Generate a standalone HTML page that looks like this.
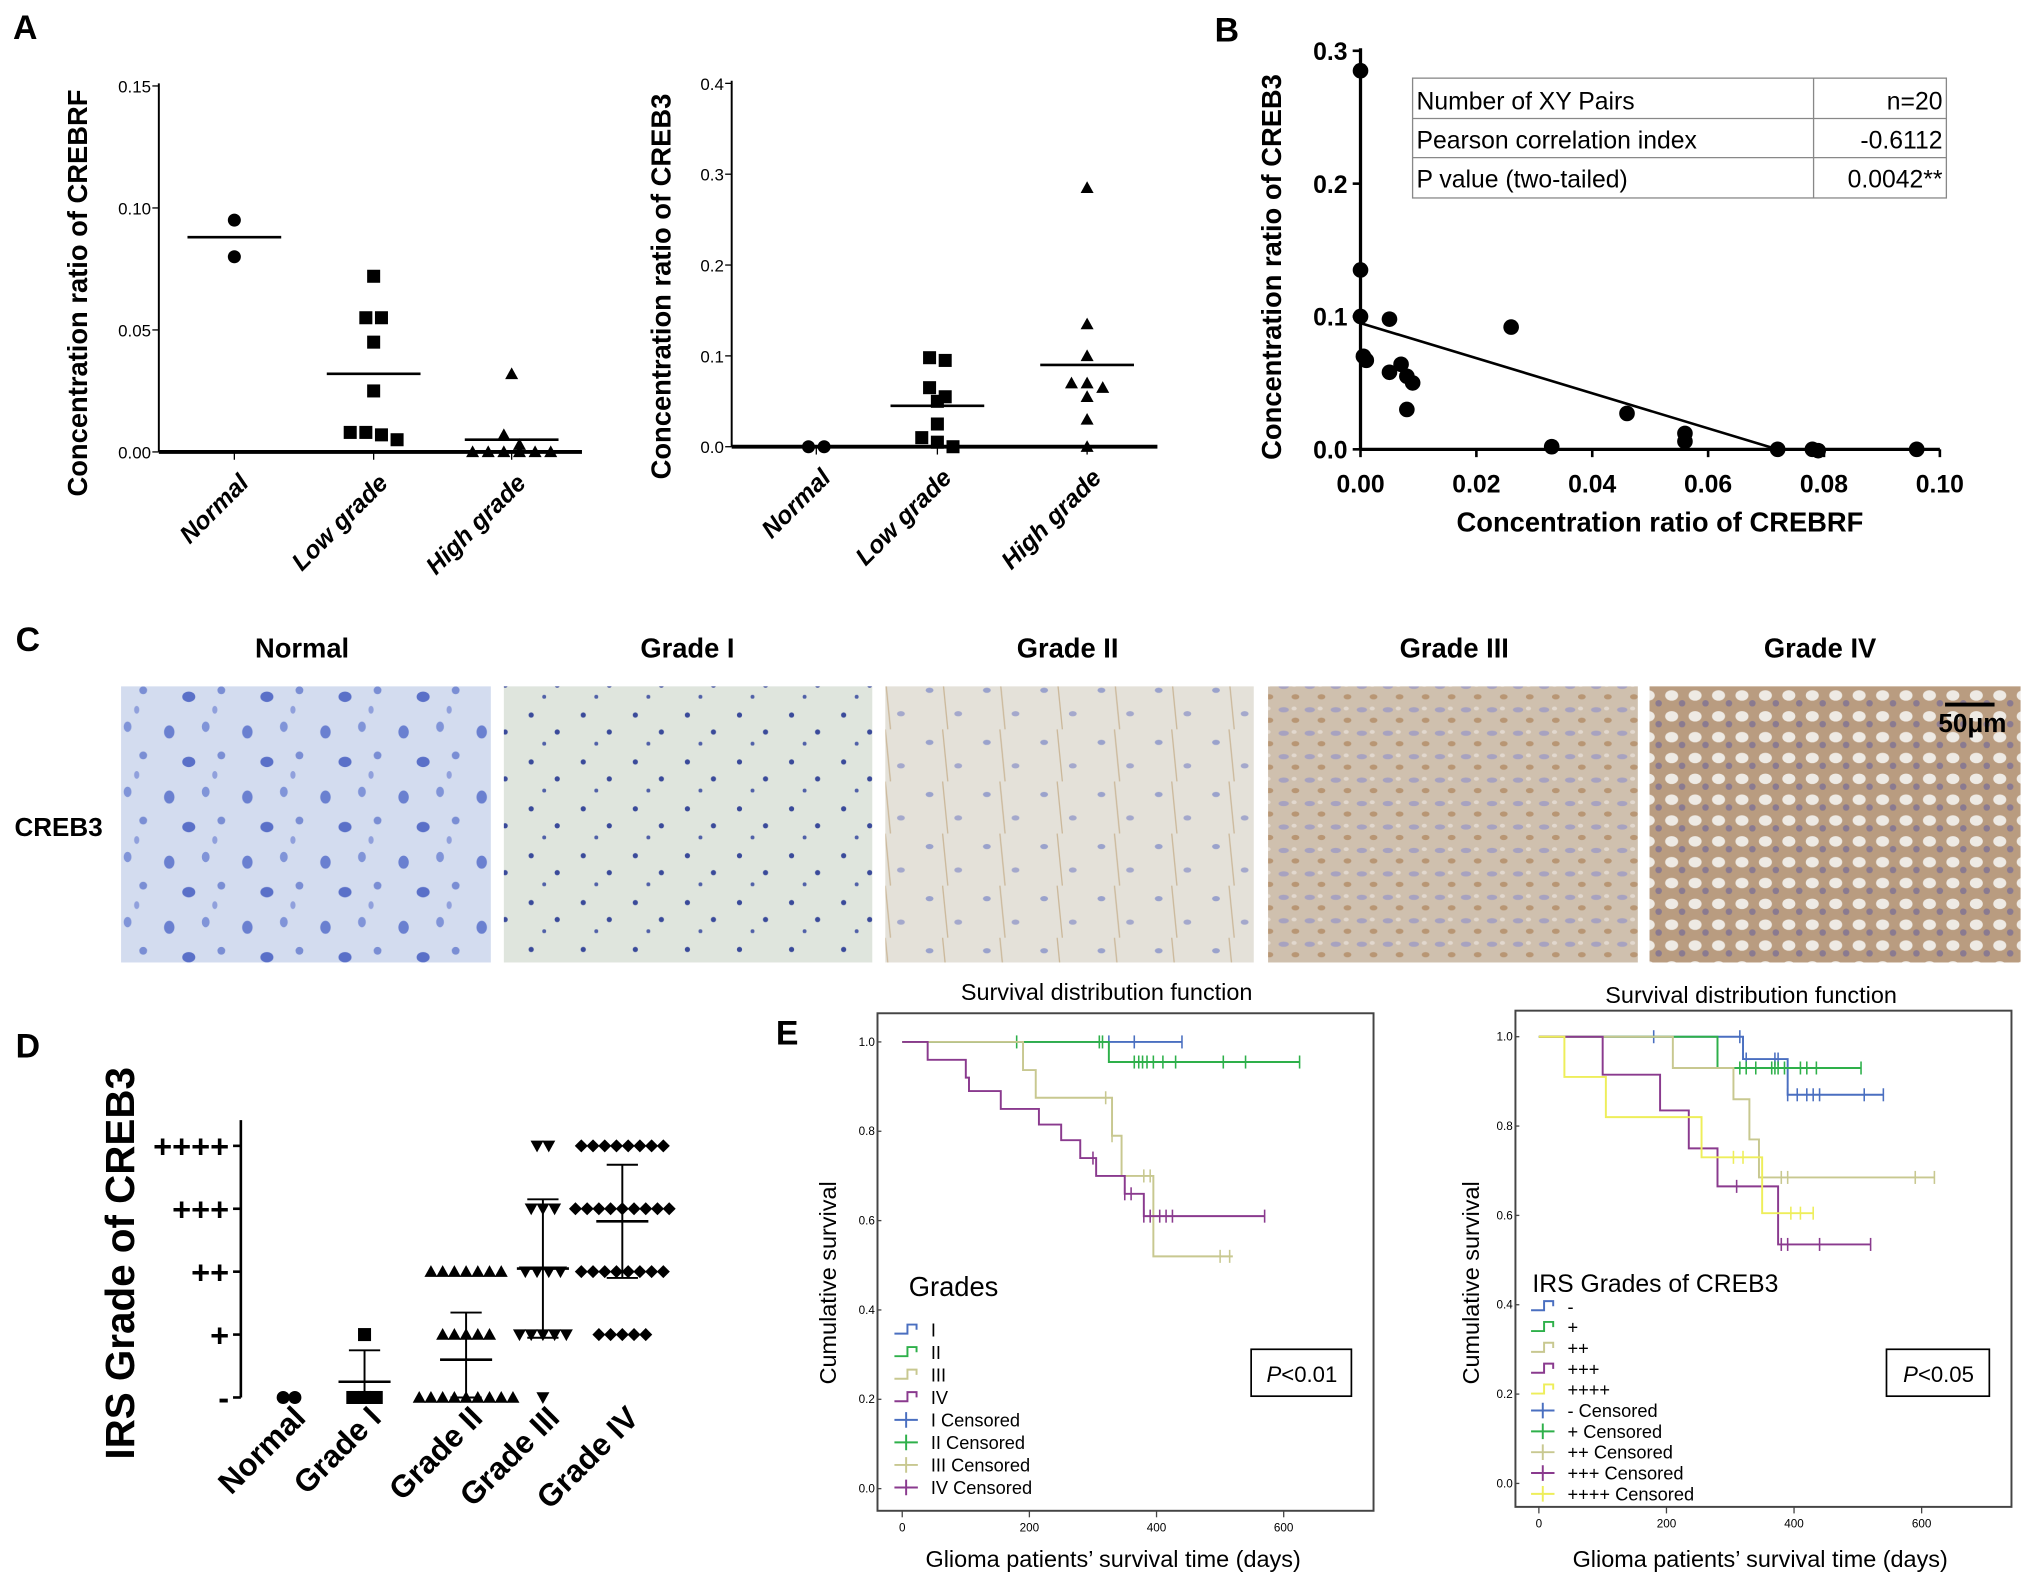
<!DOCTYPE html>
<html><head><meta charset="utf-8"><style>
html,body{margin:0;padding:0;background:#fff;}
svg{display:block;font-family:"Liberation Sans",Arial,sans-serif;}
</style></head><body>
<svg id="fig" width="2031" height="1572" viewBox="0 0 1560 1207" preserveAspectRatio="none" xmlns="http://www.w3.org/2000/svg">
<defs>
<pattern id="pN" width="60" height="50" patternUnits="userSpaceOnUse"><rect width="60" height="50" fill="#d3dcef"/><ellipse cx="10" cy="12" rx="4" ry="5" fill="#6a80d0"/><ellipse cx="38" cy="8" rx="3" ry="4" fill="#8094d8"/><ellipse cx="25" cy="35" rx="5" ry="4" fill="#5a70c8"/><ellipse cx="50" cy="30" rx="3" ry="3" fill="#7a8ed4"/><ellipse cx="45" cy="45" rx="2" ry="3" fill="#90a0dc"/></pattern>
<pattern id="p1" width="40" height="36" patternUnits="userSpaceOnUse"><rect width="40" height="36" fill="#dfe5dd"/><circle cx="8" cy="9" r="2" fill="#3a4a9a"/><circle cx="28" cy="22" r="2" fill="#3a4a9a"/><circle cx="18" cy="31" r="1.5" fill="#5060a8"/></pattern>
<pattern id="p2" width="44" height="40" patternUnits="userSpaceOnUse"><rect width="44" height="40" fill="#e4e1d9"/><ellipse cx="10" cy="10" rx="3" ry="2" fill="#9aa2cc"/><ellipse cx="32" cy="28" rx="3" ry="2" fill="#a4a8cc"/><line x1="20" y1="0" x2="24" y2="40" stroke="#cbb89a" stroke-width="1"/></pattern>
<pattern id="p3" width="20" height="18" patternUnits="userSpaceOnUse"><rect width="20" height="18" fill="#cfc0ae"/><ellipse cx="6" cy="5" rx="4" ry="2" fill="#a7a2c0"/><ellipse cx="15" cy="13" rx="3" ry="2" fill="#b89674"/><ellipse cx="14" cy="4" rx="2" ry="1.5" fill="#e2d8ce"/></pattern>
<pattern id="p4" width="18" height="16" patternUnits="userSpaceOnUse"><rect width="18" height="16" fill="#b99c80"/><ellipse cx="6" cy="6" rx="5" ry="4" fill="#eeeae4"/><circle cx="14" cy="12" r="2.5" fill="#8a7a90"/></pattern>
</defs>

<g font-weight="bold" font-size="26">
<text x="10" y="30">A</text>
<text x="933" y="32">B</text>
<text x="12" y="500">C</text>
<text x="12" y="812">D</text>
<text x="596" y="802">E</text>
</g>

<text transform="translate(67,225) rotate(-90)" text-anchor="middle" font-weight="bold" font-size="21">Concentration  ratio of CREBRF</text>
<text transform="translate(515,220) rotate(-90)" text-anchor="middle" font-weight="bold" font-size="21">Concentration  ratio of CREB3</text>
<text transform="translate(984,205) rotate(-90)" text-anchor="middle" font-weight="bold" font-size="21">Concentration  ratio of CREB3</text>
<text x="1275" y="408" text-anchor="middle" font-weight="bold" font-size="21">Concentration  ratio  of CREBRF</text>

<g id="A1"></g>
<g id="A2"></g>
<g id="B"></g>

<g font-size="19">
<rect x="1085" y="60" width="410" height="92" fill="#fff" stroke="#888" stroke-width="1"/>
<line x1="1085" y1="91" x2="1495" y2="91" stroke="#888"/><line x1="1085" y1="121" x2="1495" y2="121" stroke="#888"/>
<line x1="1393" y1="60" x2="1393" y2="152" stroke="#888"/>
<text x="1088" y="84">Number of XY Pairs</text><text x="1492" y="84" text-anchor="end">n=20</text>
<text x="1088" y="114">Pearson correlation index</text><text x="1492" y="114" text-anchor="end">-0.6112</text>
<text x="1088" y="144">P value (two-tailed)</text><text x="1492" y="144" text-anchor="end">0.0042**</text>
</g>

<g font-weight="bold" font-size="21" text-anchor="middle">
<text x="232" y="505">Normal</text><text x="528" y="505">Grade I</text><text x="820" y="505">Grade II</text><text x="1117" y="505">Grade III</text><text x="1398" y="505">Grade IV</text>
<rect x="93" y="527" width="284" height="212" fill="url(#pN)"/>
<rect x="387" y="527" width="283" height="212" fill="url(#p1)"/>
<rect x="680" y="527" width="283" height="212" fill="url(#p2)"/>
<rect x="974" y="527" width="284" height="212" fill="url(#p3)"/>
<rect x="1267" y="527" width="285" height="212" fill="url(#p4)"/>
<text x="45" y="642" font-size="20">CREB3</text>
<line x1="1494" y1="541" x2="1532" y2="541" stroke="#000" stroke-width="3"/>
<text x="1515" y="562" font-size="20">50μm</text>
</g>

<text transform="translate(103,970) rotate(-90)" text-anchor="middle" font-weight="bold" font-size="31">IRS Grade of CREB3</text>
<g id="D"></g>

<g font-size="18" text-anchor="middle">
<text x="850" y="768">Survival distribution function</text>
<text x="1345" y="770">Survival distribution function</text>
<text x="855" y="1203">Glioma patients’ survival time (days)</text>
<text x="1352" y="1203">Glioma patients’ survival time (days)</text>
<text transform="translate(642,985) rotate(-90)">Cumulative   survival</text>
<text transform="translate(1136,985) rotate(-90)">Cumulative   survival</text>
</g>
<g id="E1"></g>
<g id="E2"></g>
<g>
<text x="698" y="995" font-size="21">Grades</text>
<rect x="961" y="1036" width="77" height="36" fill="#fff" stroke="#000" stroke-width="1.3"/><text x="1000" y="1061" font-size="17" text-anchor="middle"><tspan font-style="italic">P</tspan>&lt;0.01</text>
</g>
<g>
<text x="1177" y="992" font-size="19">IRS Grades of CREB3</text>
<rect x="1449" y="1036" width="79" height="36" fill="#fff" stroke="#000" stroke-width="1.3"/><text x="1489" y="1061" font-size="17" text-anchor="middle"><tspan font-style="italic">P</tspan>&lt;0.05</text>
</g>
</svg>
<script>
const NS='http://www.w3.org/2000/svg';
function mk(tag,attrs,parent){const e=document.createElementNS(NS,tag);for(const k in attrs)e.setAttribute(k,attrs[k]);parent.appendChild(e);return e;}

// ---------- Panel A data ----------
const aCats=['Normal','Low grade','High grade'];
const aLeftTicks=[0,0.05,0.10,0.15];
const aLeftTickLabels=['0.00','0.05','0.10','0.15'];
const aLeftNormal=[0.095,0.080];
const aLeftLow=[0.072,0.055,0.055,0.045,0.025,0.008,0.005,0.007,0.008];
const aLeftHigh=[0.032,0.007,0.003,0,0,0,0,0,0];
const aLeftMeans=[0.088,0.032,0.005];
const aRightTicks=[0,0.1,0.2,0.3,0.4];
const aRightTickLabels=['0.0','0.1','0.2','0.3','0.4'];
const aRightNormal=[0,0];
const aRightLow=[0.098,0.095,0.065,0.055,0.05,0.025,0.01,0.005,0];
const aRightHigh=[0.285,0.135,0.1,0.07,0.065,0.07,0.055,0.03,0];
const aRightMeans=[0,0.045,0.09];

function marker(g,shape,x,y,s,name){
  let e;
  if(shape==='circle') e=mk('circle',{cx:x,cy:y,r:s,fill:'#000'},g);
  else if(shape==='square') e=mk('rect',{x:x-s,y:y-s,width:2*s,height:2*s,fill:'#000'},g);
  else if(shape==='tri') e=mk('polygon',{points:`${x},${y-s} ${x+s},${y+s*0.8} ${x-s},${y+s*0.8}`,fill:'#000'},g);
  else if(shape==='itri') e=mk('polygon',{points:`${x},${y+s} ${x+s},${y-s*0.8} ${x-s},${y-s*0.8}`,fill:'#000'},g);
  else e=mk('polygon',{points:`${x},${y-s} ${x+s},${y} ${x},${y+s} ${x-s},${y}`,fill:'#000'},g);
  
  
  return e;
}

function dotPanel(gid,axX,y0,yTop,vmax,catX,ticks,tickLabels,groups,means,lineEnd){
  const g=document.getElementById(gid);
  const Y=v=>y0-(v/vmax)*(y0-yTop);
  mk('line',{x1:axX,y1:yTop-2,x2:axX,y2:y0,stroke:'#000','stroke-width':1.5},g);
  mk('line',{x1:axX,y1:y0,x2:lineEnd,y2:y0,stroke:'#000','stroke-width':3},g);
  ticks.forEach((t,i)=>{
    mk('line',{x1:axX-5,y1:Y(t),x2:axX,y2:Y(t),stroke:'#000'},g);
    const tx=mk('text',{x:axX-6,y:Y(t)+5,'text-anchor':'end','font-size':13},g);tx.textContent=tickLabels[i];
    
    
  });
  const shapes=['circle','square','tri'];
  groups.forEach((vals,gi)=>{
    const cx=catX[gi];
    mk('line',{x1:cx,y1:y0,x2:cx,y2:y0+6,stroke:'#000'},g);
    const sorted=vals.map((v,i)=>({v,i})).sort((a,b)=>b.v-a.v);
    let rows=[];
    sorted.forEach(p=>{const r=rows.find(r=>Math.abs(Y(r[0].v)-Y(p.v))<9);if(r)r.push(p);else rows.push([p]);});
    rows.forEach(r=>r.forEach((p,k)=>{const x=cx+(k-(r.length-1)/2)*12;marker(g,shapes[gi],x,Y(p.v),5,'data-point');}));
    const ml=mk('line',{x1:cx-36,y1:Y(means[gi]),x2:cx+36,y2:Y(means[gi]),stroke:'#000','stroke-width':2},g);
    
    
    const lb=mk('text',{transform:`translate(${cx+12},${y0+25}) rotate(-45)`,'text-anchor':'end','font-size':19,'font-weight':'bold','font-style':'italic'},g);
    lb.textContent=aCats[gi];
    
    
  });
}
dotPanel('A1',122,347,66,0.15,[180,287,393],aLeftTicks,aLeftTickLabels,[aLeftNormal,aLeftLow,aLeftHigh],aLeftMeans,447);
dotPanel('A2',562,343,64,0.4,[627,720,835],aRightTicks,aRightTickLabels,[aRightNormal,aRightLow,aRightHigh],aRightMeans,889);

// ---------- Panel B ----------
const bX=[0,0,0,0.0005,0.001,0.005,0.005,0.007,0.008,0.009,0.008,0.026,0.033,0.046,0.056,0.056,0.072,0.078,0.096,0.079];
const bY=[0.285,0.135,0.1,0.07,0.067,0.098,0.058,0.064,0.055,0.05,0.03,0.092,0.002,0.027,0.012,0.006,0,0,0,-0.001];
const bFit=[0.095,-1.32];
const bXTicks=[0,0.02,0.04,0.06,0.08,0.10];
const bXTickLabels=['0.00','0.02','0.04','0.06','0.08','0.10'];
const bYTicks=[0,0.1,0.2,0.3];
const bYTickLabels=['0.0','0.1','0.2','0.3'];
(function(){
  const g=document.getElementById('B');
  const X=v=>1045+v/0.10*445, Y=v=>345-v/0.3*306;
  mk('line',{x1:1045,y1:37,x2:1045,y2:345,stroke:'#000','stroke-width':2.5},g);
  mk('line',{x1:1045,y1:345,x2:1490,y2:345,stroke:'#000','stroke-width':2.5},g);
  bYTicks.forEach((t,i)=>{mk('line',{x1:1039,y1:Y(t),x2:1045,y2:Y(t),stroke:'#000','stroke-width':2},g);
    const tx=mk('text',{x:1035,y:Y(t)+7,'text-anchor':'end','font-size':19,'font-weight':'bold'},g);tx.textContent=bYTickLabels[i];
    
    });
  bXTicks.forEach((t,i)=>{mk('line',{x1:X(t),y1:345,x2:X(t),y2:351,stroke:'#000','stroke-width':2},g);
    const tx=mk('text',{x:X(t),y:378,'text-anchor':'middle','font-size':19,'font-weight':'bold'},g);tx.textContent=bXTickLabels[i];
    
    });
  const xEnd=-bFit[0]/bFit[1];
  const fl=mk('line',{x1:X(0),y1:Y(bFit[0]),x2:X(xEnd),y2:Y(0),stroke:'#000','stroke-width':2},g);
  
  
  bX.forEach((v,i)=>marker(g,'circle',X(v),Y(bY[i]),6,'scatter-point'));
})();

// ---------- Panel D ----------
const dCats=['Normal','Grade I','Grade II','Grade III','Grade IV'];
const dTickLabels=['-','+','++','+++','++++'];
const dCounts=[[2,0,0,0,0],[3,1,0,0,0],[9,5,7,0,0],[1,5,4,3,2],[0,5,8,9,8]];
const dMeans=[0,0.25,0.6,2.05,2.8];
const dSD=[0,0.5,0.75,1.1,0.9];
(function(){
  const g=document.getElementById('D');
  const cx=[222,280,358,417,478], shapes=['circle','square','tri','itri','diamond'];
  const Y=v=>1073-v*48.3;
  mk('line',{x1:185,y1:860,x2:185,y2:1073,stroke:'#000','stroke-width':2},g);
  dTickLabels.forEach((t,i)=>{mk('line',{x1:179,y1:Y(i),x2:185,y2:Y(i),stroke:'#000','stroke-width':2},g);
    const tx=mk('text',{x:176,y:Y(i)+9,'text-anchor':'end','font-size':25,'font-weight':'bold'},g);tx.textContent=t;
    
    });
  dCounts.forEach((row,gi)=>{
    row.forEach((n,lv)=>{for(let k=0;k<n;k++){const x=cx[gi]+(k-(n-1)/2)*9;marker(g,shapes[gi],x,Y(lv),5,'irs-point');}});
    if(gi>0){const m=dMeans[gi],s=dSD[gi];
      const e1=mk('line',{x1:cx[gi]-20,y1:Y(m),x2:cx[gi]+20,y2:Y(m),stroke:'#000','stroke-width':2},g);
      
      
      mk('line',{x1:cx[gi],y1:Y(Math.max(0,m-s)),x2:cx[gi],y2:Y(m+s),stroke:'#000','stroke-width':1.5},g);
      mk('line',{x1:cx[gi]-12,y1:Y(m+s),x2:cx[gi]+12,y2:Y(m+s),stroke:'#000','stroke-width':1.5},g);
      mk('line',{x1:cx[gi]-12,y1:Y(Math.max(0,m-s)),x2:cx[gi]+12,y2:Y(Math.max(0,m-s)),stroke:'#000','stroke-width':1.5},g);}
    const lb=mk('text',{transform:`translate(${cx[gi]+14},${1090}) rotate(-45)`,'text-anchor':'end','font-size':24,'font-weight':'bold'},g);
    lb.textContent=dCats[gi];
    
    
  });
})();

// ---------- Panel E ----------
const eLeftNames=['I','II','III','IV'];
const eLeftColors=['#4a6fc0','#2eb04a','#c8c890','#8a3a8e'];
const eLeftTimes=[[0,440],[0,325,625],[0,190,210,330,345,395,520],[0,40,100,105,155,215,250,280,305,350,380,570]];
const eLeftSurv=[[1,1],[1,0.955,0.955],[1,0.937,0.875,0.79,0.70,0.52,0.52],[1,0.96,0.92,0.89,0.85,0.815,0.78,0.74,0.70,0.66,0.61,0.61]];
const eLeftCens=[[325,365,440],[180,310,315,365,372,378,385,395,410,430,505,540,625],[320,330,380,390,500,515],[300,350,360,380,390,405,415,425,570]];
const eRightNames=['-','+','++','+++','++++'];
const eRightColors=['#4a6fc0','#2eb04a','#c8c890','#8a3a8e','#eeee5a'];
const eRightTimes=[[0,320,390,540],[0,280,505],[0,210,305,330,345,620],[0,100,190,235,280,375,520],[0,40,105,255,350,430]];
const eRightSurv=[[1,0.95,0.87,0.87],[1,0.93,0.93],[1,0.93,0.86,0.77,0.685,0.685],[1,0.915,0.835,0.75,0.665,0.535,0.535],[1,0.91,0.82,0.73,0.605,0.605]];
const eRightCens=[[180,315,325,370,375,390,405,420,430,440,510,540],[315,325,340,365,370,375,385,410,420,435,505],[380,390,590,620],[310,380,390,440,520],[305,320,395,410,430]];
const eYTicks=[0,0.2,0.4,0.6,0.8,1.0];
const eYTickLabels=['0.0','0.2','0.4','0.6','0.8','1.0'];
const eXTicks=[0,200,400,600];

function km(gid,fx0,fx1,fy0,fy1,x0,x600,y1,y0,names,colors,times,surv,cens,legX,legY,legStep){
  const g=document.getElementById(gid);
  const X=t=>x0+t*((x600-x0)/600), Y=s=>y0-s*(y0-y1);
  mk('rect',{x:fx0,y:fy0,width:fx1-fx0,height:fy1-fy0,fill:'#fff',stroke:'#444','stroke-width':1.5},g);
  eYTicks.forEach((t,i)=>{mk('line',{x1:fx0,y1:Y(t),x2:fx0+3,y2:Y(t),stroke:'#444'},g);
    const tx=mk('text',{x:fx0-2,y:Y(t)+3,'text-anchor':'end','font-size':9},g);tx.textContent=eYTickLabels[i];
    
    });
  eXTicks.forEach(t=>{mk('line',{x1:X(t),y1:fy1,x2:X(t),y2:fy1+5,stroke:'#444'},g);
    const tx=mk('text',{x:X(t),y:fy1+16,'text-anchor':'middle','font-size':9},g);tx.textContent=t;
    
    });
  times.forEach((ts,si)=>{
    let d=`M${X(ts[0])},${Y(surv[si][0])}`;
    for(let i=1;i<ts.length;i++){d+=` H${X(ts[i])} V${Y(surv[si][i])}`;}
    const p=mk('path',{d,fill:'none',stroke:colors[si],'stroke-width':1.5},g);
    
    
    cens[si].forEach(c=>{let s=surv[si][0];for(let i=0;i<ts.length;i++){if(ts[i]<=c)s=surv[si][i];}
      const cm=mk('path',{d:`M${X(c)},${Y(s)-5}V${Y(s)+5}`,stroke:colors[si],'stroke-width':1.2},g);
      
      });
  });
  names.forEach((n,i)=>{
    const y=legY+i*legStep;
    mk('path',{d:`M${legX},${y+3}H${legX+10}V${y-4}H${legX+17}V${y}`,fill:'none',stroke:colors[i],'stroke-width':1.5},g);
    const t=mk('text',{x:legX+28,y:y+5,'font-size':14},g);t.textContent=n;
    
    
    const y2=legY+(i+names.length)*legStep;
    mk('path',{d:`M${legX},${y2}H${legX+18}M${legX+9},${y2-6}V${y2+6}`,stroke:colors[i],'stroke-width':1.5},g);
    const t2=mk('text',{x:legX+28,y:y2+5,'font-size':14},g);t2.textContent=n+' Censored';
    
    
  });
}
km('E1',674,1055,778,1160,693,986,800,1143,eLeftNames,eLeftColors,eLeftTimes,eLeftSurv,eLeftCens,687,1021,17.3);
km('E2',1164,1545,776,1157,1182,1476,796,1139,eRightNames,eRightColors,eRightTimes,eRightSurv,eRightCens,1176,1003,16);
</script>
</body></html>
